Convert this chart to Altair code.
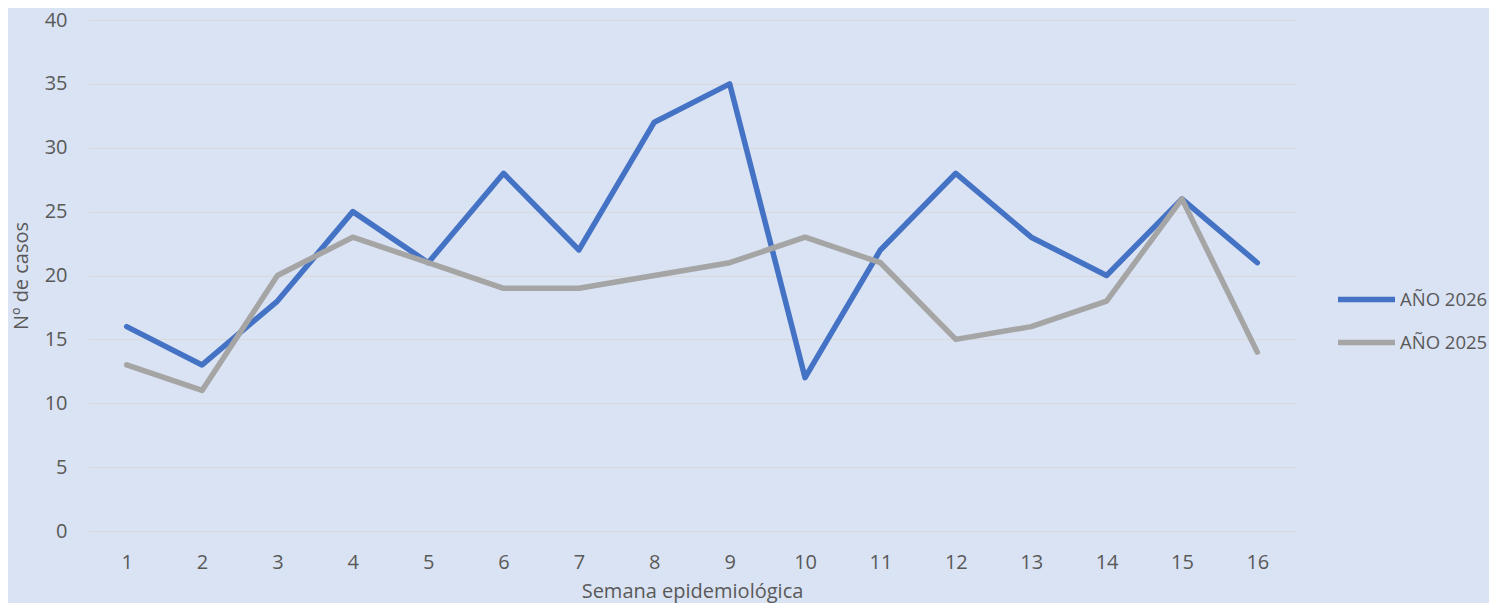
import altair as alt
import pandas as pd

weeks = list(range(1, 17))
serie_2026 = [16, 13, 18, 25, 21, 28, 22, 32, 35, 12, 22, 28, 23, 20, 26, 21]
serie_2025 = [13, 11, 20, 23, 21, 19, 19, 20, 21, 23, 21, 15, 16, 18, 26, 14]
series_names = ["AÑO 2026", "AÑO 2025"]
series_colors = ["#4472C4", "#A5A5A5"]

rows = []
for name, vals in zip(series_names, [serie_2026, serie_2025]):
    for w, v in zip(weeks, vals):
        rows.append({"semana": w, "casos": v, "serie": name})
df = pd.DataFrame(rows)

FONT = "Open Sans"
TXT = "#595959"
BG = "#DAE3F3"
FS = 20

chart = alt.Chart(df).mark_line(strokeWidth=5.5, strokeCap="round", strokeJoin="round").encode(
    x=alt.X("semana:O", scale=alt.Scale(type="point", padding=0.5),
            sort=weeks,
            axis=alt.Axis(title="Semana epidemiológica", labelAngle=0, ticks=False,
                          domain=False, grid=False, labelPadding=21, titlePadding=9,
                          labelFontSize=FS, titleFontSize=FS, labelColor=TXT, titleColor=TXT,
                          labelFont=FONT, titleFont=FONT, titleFontWeight="normal")),
    y=alt.Y("casos:Q", scale=alt.Scale(domain=[0, 40], nice=False),
            axis=alt.Axis(title="Nº de casos", values=list(range(0, 41, 5)), ticks=False,
                          domain=False, gridColor="#D9D9D9", gridWidth=1.2,
                          labelPadding=22, titlePadding=13,
                          labelFontSize=FS, titleFontSize=FS, labelColor=TXT, titleColor=TXT,
                          labelFont=FONT, titleFont=FONT, titleFontWeight="normal")),
    color=alt.Color("serie:N",
                    scale=alt.Scale(domain=series_names, range=series_colors),
                    legend=alt.Legend(title=None, orient="none", legendX=1246, legendY=248,
                                      symbolType="stroke", symbolSize=3249,
                                      symbolStrokeWidth=5.5, labelOffset=2,
                                      rowPadding=-13, labelFontSize=18.5, labelColor=TXT,
                                      labelFont=FONT, padding=0)),
    order=alt.Order("semana:O"),
).properties(
    width=1206, height=511,
    background=BG,
    padding={"left": 81, "top": 12, "right": 194, "bottom": 72},
    autosize=alt.AutoSizeParams(type="none"),
).configure_view(stroke=None, fill=BG)

chart.save("out.html", embed_options={"renderer": "svg", "actions": False})
